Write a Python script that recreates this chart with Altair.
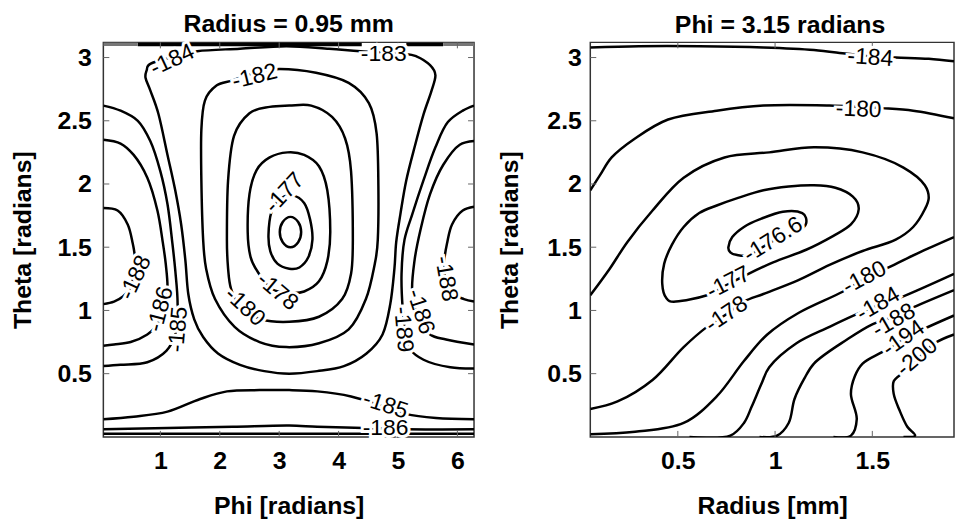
import altair as alt
import pandas as pd

FONT = "Liberation Sans"

# ---------------- Left panel: Radius = 0.95 mm (Phi vs Theta) ----------------
L_X_DOMAIN = [0.04, 6.28]
Y_DOMAIN = [0.0, 3.12]
L_X_TICKS = [1, 2, 3, 4, 5, 6]
Y_TICKS = [0.5, 1, 1.5, 2, 2.5, 3]

# closed contours
L_C0_X = [3.01, 3.06, 3.19, 3.32, 3.37, 3.32, 3.19, 3.06]
L_C0_Y = [1.62, 1.70, 1.74, 1.70, 1.62, 1.54, 1.50, 1.54]
L_C177_X = [2.82, 2.87, 3.01, 3.22, 3.42, 3.52, 3.56, 3.49, 3.34, 3.17, 2.97, 2.85]
L_C177_Y = [1.60, 1.78, 1.88, 1.91, 1.85, 1.72, 1.56, 1.42, 1.34, 1.33, 1.37, 1.47]
L_C178_X = [2.47, 2.50, 2.62, 2.84, 3.14, 3.42, 3.67, 3.81, 3.86, 3.81, 3.67, 3.42, 3.17, 2.87, 2.66, 2.52]
L_C178_Y = [1.62, 1.92, 2.11, 2.21, 2.25, 2.23, 2.14, 1.95, 1.62, 1.39, 1.23, 1.15, 1.14, 1.17, 1.29, 1.42]
L_C180_X = [2.12, 2.14, 2.24, 2.50, 2.84, 3.17, 3.54, 3.89, 4.11, 4.21, 4.24, 4.21, 4.06, 3.67, 3.17, 2.70, 2.34, 2.19, 2.14]
L_C180_Y = [1.56, 2.03, 2.38, 2.56, 2.61, 2.62, 2.62, 2.53, 2.36, 2.10, 1.56, 1.29, 1.09, 0.95, 0.91, 0.93, 1.03, 1.17, 1.33]
L_C182_X = [1.72, 1.69, 1.69, 1.75, 1.95, 2.22, 2.59, 3.01, 3.62, 4.17, 4.51, 4.64, 4.67, 4.66, 4.61, 4.46, 4.17, 3.67, 3.12, 2.67, 2.25, 1.92, 1.77]
L_C182_Y = [1.56, 2.03, 2.43, 2.66, 2.78, 2.82, 2.88, 2.91, 2.88, 2.80, 2.64, 2.40, 1.98, 1.56, 1.37, 1.09, 0.85, 0.74, 0.71, 0.75, 0.87, 1.09, 1.33]
L_C184_X = [0.83, 0.77, 0.75, 0.83, 0.97, 1.12, 1.25, 1.35, 1.42, 1.47, 1.57, 1.72, 1.97, 2.34, 2.75, 3.17, 3.64, 4.09, 4.47,
            4.74, 4.87, 4.94, 4.97, 5.04, 5.14, 5.29, 5.43, 5.56, 5.63, 5.54, 5.31, 5.09, 4.37, 3.84, 3.12, 2.34, 1.62, 1.17]
L_C184_Y = [2.95, 2.90, 2.84, 2.74, 2.55, 2.23, 1.95, 1.68, 1.40, 1.13, 0.93, 0.79, 0.66, 0.57, 0.52, 0.50, 0.52, 0.56, 0.66,
            0.81, 1.05, 1.33, 1.54, 1.76, 2.03, 2.31, 2.55, 2.73, 2.86, 2.94, 3.01, 3.03, 3.05, 3.07, 3.09, 3.07, 3.05, 3.00]

# open contours
L_O185_X = [0.04, 0.33, 0.62, 0.83, 1.00, 1.12, 1.20, 1.25, 1.29, 1.25, 1.10, 0.78, 0.33, 0.04]
L_O185_Y = [2.62, 2.58, 2.50, 2.34, 2.10, 1.84, 1.54, 1.32, 1.05, 0.81, 0.68, 0.59, 0.57, 0.56]
L_O186_X = [0.04, 0.33, 0.55, 0.78, 0.95, 1.04, 1.09, 1.12, 1.07, 0.92, 0.78, 0.50, 0.22, 0.04]
L_O186_Y = [2.35, 2.32, 2.23, 2.05, 1.79, 1.54, 1.37, 1.17, 1.00, 0.87, 0.81, 0.75, 0.73, 0.72]
L_O188_X = [0.04, 0.28, 0.45, 0.53, 0.57, 0.55, 0.48, 0.37, 0.22, 0.04]
L_O188_Y = [1.81, 1.79, 1.68, 1.54, 1.42, 1.29, 1.17, 1.11, 1.07, 1.05]
L_O189_X = [6.28, 6.09, 5.84, 5.63, 5.43, 5.24, 5.11, 5.06, 5.08, 5.13, 5.21, 5.43, 5.88, 6.28]
L_O189_Y = [2.62, 2.58, 2.49, 2.29, 2.03, 1.76, 1.56, 1.29, 1.01, 0.81, 0.69, 0.61, 0.55, 0.54]
L_O186R_X = [6.28, 6.04, 5.76, 5.54, 5.38, 5.28, 5.24, 5.34, 5.54, 5.81, 6.28]
L_O186R_Y = [2.34, 2.31, 2.15, 1.92, 1.64, 1.40, 1.14, 0.95, 0.81, 0.77, 0.73]
L_O188R_X = [6.28, 6.09, 5.91, 5.83, 5.78, 5.81, 5.93, 6.11, 6.28]
L_O188R_Y = [1.82, 1.79, 1.68, 1.54, 1.39, 1.22, 1.13, 1.09, 1.07]
L_OB185_X = [0.04, 0.55, 1.12, 1.67, 2.12, 2.67, 3.17, 3.64, 4.21, 4.76, 5.14, 5.64, 6.28]
L_OB185_Y = [0.14, 0.16, 0.20, 0.30, 0.36, 0.37, 0.37, 0.36, 0.32, 0.24, 0.18, 0.15, 0.14]
L_OB186_X = [0.04, 1.12, 2.22, 3.17, 3.64, 4.42, 5.14, 6.28]
L_OB186_Y = [0.06, 0.07, 0.08, 0.09, 0.08, 0.07, 0.06, 0.06]
L_OBASE_X = [0.04, 6.28]
L_OBASE_Y = [0.025, 0.025]

# squeezed contours along the top edge
L_TOP_DARK1_X = [0.62, 4.39]
L_TOP_DARK2_X = [5.14, 5.76]
L_TOP_DARK_Y = [3.103, 3.103]
L_TOP_GREY1_X = [0.04, 0.62]
L_TOP_GREY2_X = [5.76, 6.28]
L_TOP_GREY_Y = [3.105, 3.105]

L_LAB_T = ["-184", "-182", "-183", "-177", "-178", "-180", "-188", "-186", "-185",
           "-189", "-186", "-188", "-185", "-186"]
L_LAB_X = [1.20, 2.59, 4.76, 3.09, 2.97, 2.42, 0.58, 1.00, 1.30, 5.09, 5.38, 5.81, 4.79, 4.79]
L_LAB_Y = [2.98, 2.85, 3.03, 1.93, 1.15, 1.03, 1.26, 1.01, 0.85, 0.85, 0.99, 1.25, 0.25, 0.07]
L_LAB_A = [335, 346, 0, 313, 40, 43, 295, 285, 275, 85, 72, 80, 18, 0]

# ---------------- Right panel: Phi = 3.15 radians (Radius vs Theta) ----------------
R_X_DOMAIN = [0.05, 1.92]
R_X_TICKS = [0.5, 1, 1.5]

R_C1766_X = [0.76, 0.78, 0.84, 0.92, 1.04, 1.14, 1.16, 1.12, 0.99, 0.87, 0.80, 0.77]
R_C1766_Y = [1.50, 1.58, 1.66, 1.72, 1.78, 1.77, 1.69, 1.63, 1.55, 1.44, 1.44, 1.46]
R_C177_X = [0.61, 0.53, 0.47, 0.43, 0.42, 0.44, 0.49, 0.65, 0.75, 0.85, 0.99, 1.16, 1.30, 1.39, 1.43, 1.40,
            1.31, 1.20, 1.07, 0.94, 0.81, 0.70]
R_C177_Y = [1.77, 1.66, 1.52, 1.37, 1.21, 1.10, 1.07, 1.12, 1.20, 1.28, 1.38, 1.48, 1.59, 1.68, 1.80, 1.90,
            1.97, 1.99, 1.98, 1.95, 1.89, 1.83]

R_O184T_X = [0.05, 0.30, 0.61, 0.94, 1.20, 1.37, 1.49, 1.62, 1.79, 1.92]
R_O184T_Y = [3.08, 3.09, 3.09, 3.08, 3.06, 3.03, 3.01, 3.00, 2.99, 2.97]
R_O180T_X = [0.05, 0.10, 0.16, 0.28, 0.45, 0.70, 0.94, 1.28, 1.43, 1.55, 1.71, 1.92]
R_O180T_Y = [1.95, 2.07, 2.21, 2.36, 2.51, 2.58, 2.62, 2.62, 2.61, 2.60, 2.58, 2.52]
R_O178_X = [0.05, 0.19, 0.37, 0.53, 0.65, 0.75, 0.84, 0.94, 1.12, 1.28, 1.45, 1.62, 1.71, 1.77, 1.79, 1.77,
            1.66, 1.45, 1.20, 0.97, 0.74, 0.53, 0.37, 0.24, 0.15, 0.05]
R_O178_Y = [0.22, 0.28, 0.45, 0.71, 0.87, 0.97, 1.07, 1.13, 1.24, 1.36, 1.47, 1.56, 1.66, 1.80, 1.89, 1.99,
            2.13, 2.25, 2.29, 2.25, 2.21, 2.05, 1.79, 1.54, 1.33, 1.12]
R_O180L_X = [0.05, 0.28, 0.53, 0.70, 0.84, 0.96, 1.12, 1.35, 1.46, 1.57, 1.73, 1.92]
R_O180L_Y = [0.02, 0.04, 0.11, 0.32, 0.60, 0.81, 0.98, 1.15, 1.25, 1.33, 1.45, 1.58]
R_O184L_X = [0.56, 0.77, 0.84, 0.88, 0.93, 0.97, 1.11, 1.28, 1.42, 1.53, 1.64, 1.92]
R_O184L_Y = [0.0, 0.01, 0.11, 0.24, 0.42, 0.55, 0.74, 0.87, 0.97, 1.04, 1.10, 1.29]
R_O188_X = [0.92, 1.01, 1.07, 1.10, 1.15, 1.20, 1.37, 1.50, 1.61, 1.69, 1.92]
R_O188_Y = [0.0, 0.01, 0.11, 0.30, 0.46, 0.58, 0.77, 0.89, 0.95, 1.01, 1.16]
R_O194_X = [1.30, 1.39, 1.42, 1.39, 1.41, 1.45, 1.55, 1.66, 1.76, 1.92]
R_O194_Y = [0.0, 0.01, 0.14, 0.34, 0.48, 0.58, 0.67, 0.77, 0.85, 0.96]
R_O200_X = [1.66, 1.72, 1.68, 1.64, 1.61, 1.61, 1.66, 1.73, 1.82, 1.92]
R_O200_Y = [0.0, 0.01, 0.08, 0.21, 0.34, 0.44, 0.51, 0.61, 0.74, 0.81]

R_LAB_T = ["-184", "-180", "-176.6", "-177", "-178", "-180", "-184", "-188", "-194", "-200"]
R_LAB_X = [1.49, 1.43, 0.99, 0.76, 0.75, 1.46, 1.53, 1.61, 1.66, 1.73]
R_LAB_Y = [3.00, 2.59, 1.56, 1.22, 0.97, 1.26, 1.05, 0.92, 0.78, 0.63]
R_LAB_A = [4, 2, 328, 333, 326, 332, 330, 330, 325, 320]

LINE_W = 2.5
TICK_FS = 25
TITLE_FS = 25
LABEL_FS = 23


def frame(curves):
    rows = []
    for cid, (xs, ys) in enumerate(curves):
        for k, (x, y) in enumerate(zip(xs, ys)):
            rows.append({"cid": cid, "k": k, "x": x, "y": y})
    return pd.DataFrame(rows)


def panel(closed, opened, top_dark, top_grey, lab, xdom, xticks, xtitle, title, w, h, lab_pad, title_pad,
          right_ticks=True, title_dx=0):
    xs = alt.Scale(domain=xdom, nice=False, zero=False)
    ys = alt.Scale(domain=Y_DOMAIN, nice=False, zero=False)
    xax = alt.Axis(values=xticks, format="~g", ticks=False, domain=False, grid=False, title=xtitle,
                   labelFont=FONT, labelFontSize=TICK_FS, labelFontWeight="bold", labelColor="black",
                   labelPadding=12, labelFlush=False, titleFont=FONT, titleFontSize=TITLE_FS,
                   titleFontWeight="bold", titleColor="black", titlePadding=20)
    yax = alt.Axis(values=Y_TICKS, format="~g", ticks=False, domain=False, grid=False,
                   title="Theta [radians]", labelFont=FONT, labelFontSize=TICK_FS, labelFontWeight="bold",
                   labelColor="black", labelPadding=lab_pad, labelFlush=False, titleFont=FONT,
                   titleFontSize=TITLE_FS, titleFontWeight="bold", titleColor="black", titlePadding=title_pad)
    X = alt.X("x:Q", scale=xs, axis=xax)
    Y = alt.Y("y:Q", scale=ys, axis=yax)

    layers = []
    layers.append(alt.Chart(frame(closed)).mark_line(
        interpolate="cardinal-closed", color="black", strokeWidth=LINE_W, clip=True
    ).encode(x=X, y=Y, detail="cid:N", order="k:Q"))
    layers.append(alt.Chart(frame(opened)).mark_line(
        interpolate="catmull-rom", color="black", strokeWidth=LINE_W, clip=True
    ).encode(x=X, y=Y, detail="cid:N", order="k:Q"))
    if top_dark:
        layers.append(alt.Chart(frame(top_dark)).mark_line(color="black", strokeWidth=3.5, clip=True)
                      .encode(x=X, y=Y, detail="cid:N", order="k:Q"))
    if top_grey:
        layers.append(alt.Chart(frame(top_grey)).mark_line(color="#777777", strokeWidth=3.5, clip=True)
                      .encode(x=X, y=Y, detail="cid:N", order="k:Q"))

    # inner tick marks (MATLAB box style)
    xt = pd.DataFrame({"x": xticks})
    yt = pd.DataFrame({"y": Y_TICKS})
    tick_style = dict(color="#666666", strokeWidth=1)
    layers.append(alt.Chart(xt).mark_rule(**tick_style).encode(x=X, y=alt.value(h), y2=alt.value(h - 6)))
    layers.append(alt.Chart(xt).mark_rule(**tick_style).encode(x=X, y=alt.value(0), y2=alt.value(6)))
    layers.append(alt.Chart(yt).mark_rule(**tick_style).encode(y=Y, x=alt.value(0), x2=alt.value(6)))
    if right_ticks:
        layers.append(alt.Chart(yt).mark_rule(**tick_style).encode(y=Y, x=alt.value(w - 6), x2=alt.value(w)))

    t, lx, ly, la = lab
    ldf = pd.DataFrame({"t": t, "x": lx, "y": ly, "a": la})
    enc = dict(x=X, y=Y, text="t:N", angle=alt.Angle("a:Q", scale=None))
    layers.append(alt.Chart(ldf).mark_text(font=FONT, fontSize=LABEL_FS, color="white", stroke="white",
                                           strokeWidth=6, baseline="middle", align="center").encode(**enc))
    layers.append(alt.Chart(ldf).mark_text(font=FONT, fontSize=LABEL_FS, color="black",
                                           baseline="middle", align="center").encode(**enc))

    return alt.layer(*layers).properties(
        width=w, height=h,
        title=alt.TitleParams(title, font=FONT, fontSize=TITLE_FS, fontWeight="bold", color="black",
                              anchor="middle", offset=4, dx=title_dx),
    )


left = panel(
    closed=[(L_C0_X, L_C0_Y), (L_C177_X, L_C177_Y), (L_C178_X, L_C178_Y), (L_C180_X, L_C180_Y),
            (L_C182_X, L_C182_Y), (L_C184_X, L_C184_Y)],
    opened=[(L_O185_X, L_O185_Y), (L_O186_X, L_O186_Y), (L_O188_X, L_O188_Y), (L_O189_X, L_O189_Y),
            (L_O186R_X, L_O186R_Y), (L_O188R_X, L_O188R_Y), (L_OB185_X, L_OB185_Y),
            (L_OB186_X, L_OB186_Y), (L_OBASE_X, L_OBASE_Y)],
    top_dark=[(L_TOP_DARK1_X, L_TOP_DARK_Y), (L_TOP_DARK2_X, L_TOP_DARK_Y)],
    top_grey=[(L_TOP_GREY1_X, L_TOP_GREY_Y), (L_TOP_GREY2_X, L_TOP_GREY_Y)],
    lab=(L_LAB_T, L_LAB_X, L_LAB_Y, L_LAB_A),
    xdom=L_X_DOMAIN, xticks=L_X_TICKS, xtitle="Phi [radians]", title="Radius = 0.95 mm",
    w=373, h=397, lab_pad=12, title_pad=22,
)

right = panel(
    closed=[(R_C1766_X, R_C1766_Y), (R_C177_X, R_C177_Y)],
    opened=[(R_O184T_X, R_O184T_Y), (R_O180T_X, R_O180T_Y), (R_O178_X, R_O178_Y), (R_O180L_X, R_O180L_Y),
            (R_O184L_X, R_O184L_Y), (R_O188_X, R_O188_Y), (R_O194_X, R_O194_Y), (R_O200_X, R_O200_Y)],
    top_dark=None, top_grey=None,
    lab=(R_LAB_T, R_LAB_X, R_LAB_Y, R_LAB_A),
    xdom=R_X_DOMAIN, xticks=R_X_TICKS, xtitle="Radius [mm]", title="Phi = 3.15 radians",
    w=366, h=397, lab_pad=9, title_pad=24, right_ticks=False, title_dx=8,
)

chart = alt.hconcat(left, right, spacing=21).properties(
    padding={"left": 9, "top": 9, "right": 0, "bottom": 0},
    background="white",
).configure_view(stroke="#333333", strokeWidth=1.5)

chart.save("out.html", embed_options={"renderer": "svg", "actions": False})
